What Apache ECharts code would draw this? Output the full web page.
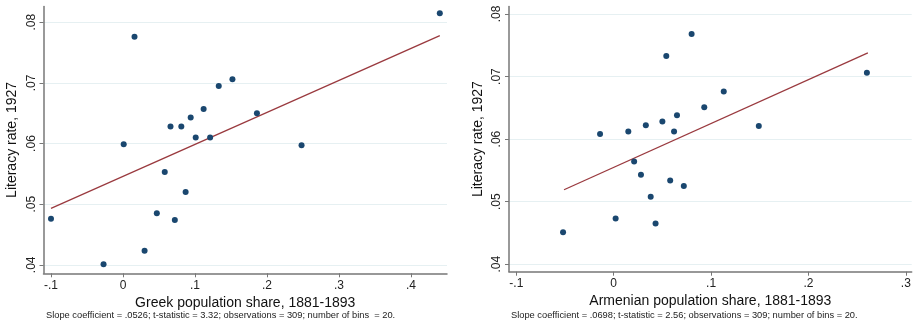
<!DOCTYPE html>
<html>
<head>
<meta charset="utf-8">
<script src="https://cdn.jsdelivr.net/npm/echarts@6/dist/echarts.min.js"></script>
<style>html,body{margin:0;padding:0;background:#fff}#c{width:915px;height:327px}</style>
</head>
<body>
<div id="c"></div>
<script>
// Greek panel
const greekX = [-0.100, -0.027, 0.001, 0.016, 0.030, 0.047, 0.058, 0.066, 0.072, 0.081, 0.087, 0.094, 0.101, 0.112, 0.121, 0.133, 0.152, 0.186, 0.248, 0.440];
const greekY = [0.0476, 0.0401, 0.0599, 0.0776, 0.0423, 0.0485, 0.0553, 0.0628, 0.0474, 0.0628, 0.0520, 0.0643, 0.0610, 0.0657, 0.0610, 0.0695, 0.0706, 0.0650, 0.0597, 0.0815];
const greekFitX = [-0.100, 0.440];
const greekFitY = [0.0493, 0.0778];
// Armenian panel
const armX = [-0.052, -0.014, 0.002, 0.015, 0.021, 0.028, 0.033, 0.038, 0.043, 0.050, 0.054, 0.058, 0.062, 0.065, 0.072, 0.080, 0.093, 0.113, 0.149, 0.260];
const armY = [0.0451, 0.0608, 0.0473, 0.0612, 0.0564, 0.0543, 0.0622, 0.0508, 0.0465, 0.0628, 0.0733, 0.0534, 0.0612, 0.0638, 0.0525, 0.0768, 0.0651, 0.0676, 0.0621, 0.0706];
const armFitX = [-0.051, 0.261];
const armFitY = [0.0519, 0.0738];
// ticks
const greekXTicks = [-0.1, 0, 0.1, 0.2, 0.3, 0.4];
const armXTicks = [-0.1, 0, 0.1, 0.2, 0.3];
const yTicks = [0.04, 0.05, 0.06, 0.07, 0.08];
const xTitles = ['Greek population share, 1881-1893', 'Armenian population share, 1881-1893'];
const yTitle = 'Literacy rate, 1927';
const captions = [
  'Slope coefficient = .0526; t-statistic = 3.32; observations = 309; number of bins  = 20.',
  'Slope coefficient = .0698; t-statistic = 2.56; observations = 309; number of bins = 20.'
];

const FONT = "'Liberation Sans', Arial, sans-serif";
const zip = (a, b) => a.map((v, i) => [v, b[i]]);
const fmt = v => {
  const s = String(+(+v).toFixed(3));
  return s.replace(/^(-?)0\./, '$1.');
};

function xAxis(idx, min, max, ticks) {
  return {
    type: 'value', gridIndex: idx, min: min, max: max,
    name: xTitles[idx], nameLocation: 'middle', nameGap: 22,
    nameTextStyle: { fontFamily: FONT, fontSize: 14, color: '#111' },
    axisLine: { show: true, onZero: false, lineStyle: { color: '#777', width: 1.5 } },
    axisTick: { show: true, length: 4, customValues: ticks, lineStyle: { color: '#777' } },
    axisLabel: { customValues: ticks, formatter: fmt, fontFamily: FONT, fontSize: 12, color: '#222', margin: 6 },
    splitLine: { show: false }
  };
}
function yAxis(idx, min, max) {
  return {
    type: 'value', gridIndex: idx, min: min, max: max,
    name: yTitle, nameLocation: 'middle', nameGap: 24,
    nameTextStyle: { fontFamily: FONT, fontSize: 14, color: '#111' },
    axisLine: { show: true, onZero: false, lineStyle: { color: '#777', width: 1.5 } },
    axisTick: { show: true, length: 4, customValues: yTicks, lineStyle: { color: '#777' } },
    axisLabel: { customValues: yTicks, formatter: fmt, rotate: 90, fontFamily: FONT, fontSize: 12, color: '#222', margin: 6 },
    splitLine: { show: true, lineStyle: { color: '#e6f0f2', width: 1.2 } }
  };
}

const chart = echarts.init(document.getElementById('c'), null, { renderer: 'canvas' });
chart.setOption({
  animation: false,
  backgroundColor: '#fff',
  title: [
    { text: captions[0], left: 46, top: 311, padding: 0, textStyle: { fontFamily: FONT, fontSize: 9.3, fontWeight: 'normal', color: '#222' } },
    { text: captions[1], left: 511, top: 311, padding: 0, textStyle: { fontFamily: FONT, fontSize: 9.3, fontWeight: 'normal', color: '#222' } }
  ],
  grid: [
    { left: 43.5, right: 468, top: 6.5, bottom: 53.7, containLabel: false },
    { left: 509, right: 3.3, top: 6.5, bottom: 55.3, containLabel: false }
  ],
  xAxis: [xAxis(0, -0.1104, 0.45, greekXTicks), xAxis(1, -0.1075, 0.306, armXTicks)],
  yAxis: [yAxis(0, 0.0386, 0.0826), yAxis(1, 0.0388, 0.0812)],
  series: [
    { type: 'line', xAxisIndex: 0, yAxisIndex: 0, data: zip(greekFitX, greekFitY), showSymbol: false, symbol: 'none', lineStyle: { color: '#9a3a3f', width: 1.3 }, z: 2 },
    { type: 'scatter', xAxisIndex: 0, yAxisIndex: 0, data: zip(greekX, greekY), symbolSize: 6, itemStyle: { color: '#1a476f', opacity: 1 }, z: 3 },
    { type: 'line', xAxisIndex: 1, yAxisIndex: 1, data: zip(armFitX, armFitY), showSymbol: false, symbol: 'none', lineStyle: { color: '#9a3a3f', width: 1.3 }, z: 2 },
    { type: 'scatter', xAxisIndex: 1, yAxisIndex: 1, data: zip(armX, armY), symbolSize: 6, itemStyle: { color: '#1a476f', opacity: 1 }, z: 3 }
  ]
});
</script>
</body>
</html>
